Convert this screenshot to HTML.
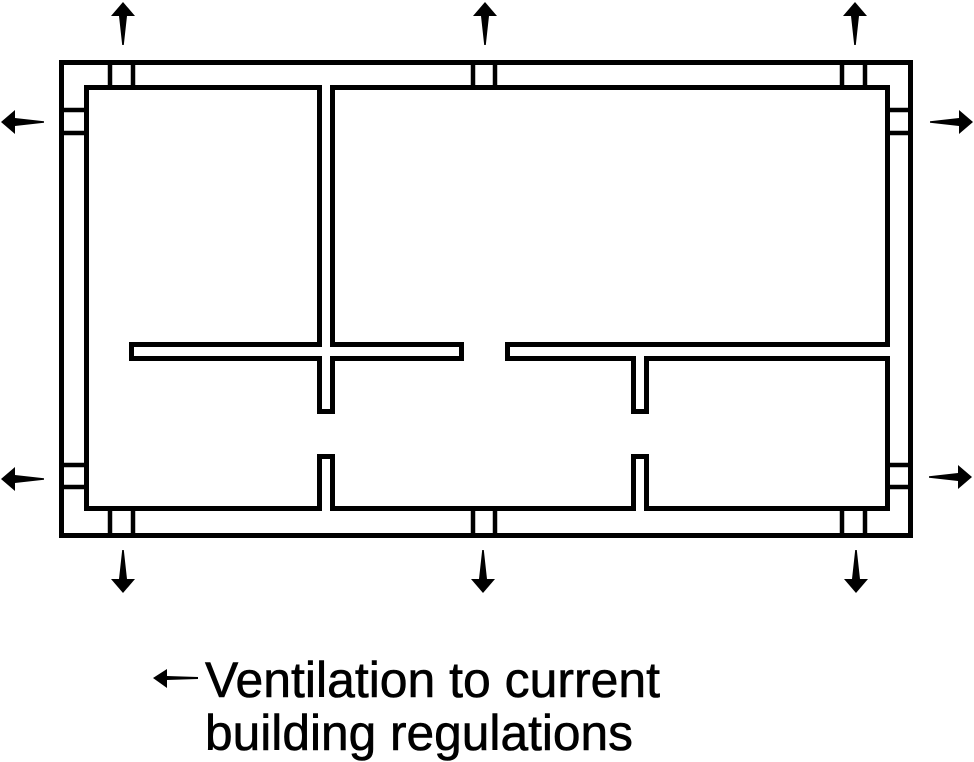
<!DOCTYPE html>
<html><head><meta charset="utf-8"><style>
html,body{margin:0;padding:0;background:#fff;}
svg{display:block;}
</style></head><body>
<svg width="974" height="762" viewBox="0 0 974 762" xmlns="http://www.w3.org/2000/svg">
<defs>
<path id="ar" d="M0,0 L12,14 L4,14 L0.8,43 L-0.8,43 L-4,14 L-12,14 Z" fill="#000"/>
</defs>
<g id="walls">
<g fill="none" stroke="#000" stroke-width="10" stroke-linejoin="miter">
<path fill-rule="evenodd" d="M64,65 H908 V533 H64 Z M84,85 V511 H890 V85 Z"/>
<rect x="322" y="65" width="8" height="344"/>
<rect x="134" y="347" width="325" height="9"/>
<rect x="510" y="347" width="380" height="9"/>
<rect x="636" y="347" width="8" height="62"/>
<rect x="322" y="459" width="8" height="54"/>
<rect x="636" y="459" width="8" height="54"/>
</g>
<g fill="#fff" stroke="none">
<path fill-rule="evenodd" d="M64,65 H908 V533 H64 Z M84,85 V511 H890 V85 Z"/>
<rect x="322" y="65" width="8" height="344"/>
<rect x="134" y="347" width="325" height="9"/>
<rect x="510" y="347" width="380" height="9"/>
<rect x="636" y="347" width="8" height="62"/>
<rect x="322" y="459" width="8" height="54"/>
<rect x="636" y="459" width="8" height="54"/>
</g>
</g>
<g stroke="#000" stroke-width="4.5">
<line x1="110" y1="63" x2="110" y2="87"/><line x1="133" y1="63" x2="133" y2="87"/>
<line x1="473" y1="63" x2="473" y2="87"/><line x1="495" y1="63" x2="495" y2="87"/>
<line x1="842" y1="63" x2="842" y2="87"/><line x1="865" y1="63" x2="865" y2="87"/>
<line x1="110" y1="511" x2="110" y2="535"/><line x1="133" y1="511" x2="133" y2="535"/>
<line x1="473" y1="511" x2="473" y2="535"/><line x1="495" y1="511" x2="495" y2="535"/>
<line x1="842" y1="511" x2="842" y2="535"/><line x1="865" y1="511" x2="865" y2="535"/>
<line x1="62" y1="110" x2="86" y2="110"/><line x1="62" y1="133" x2="86" y2="133"/>
<line x1="62" y1="465" x2="86" y2="465"/><line x1="62" y1="487" x2="86" y2="487"/>
<line x1="888" y1="110" x2="910" y2="110"/><line x1="888" y1="133" x2="910" y2="133"/>
<line x1="888" y1="465" x2="910" y2="465"/><line x1="888" y1="487" x2="910" y2="487"/>
</g>
<use href="#ar" transform="translate(123,2)"/>
<use href="#ar" transform="translate(485,2)"/>
<use href="#ar" transform="translate(855,2)"/>
<use href="#ar" transform="translate(123,593) rotate(180)"/>
<use href="#ar" transform="translate(483,593) rotate(180)"/>
<use href="#ar" transform="translate(856,593) rotate(180)"/>
<use href="#ar" transform="translate(1,122) rotate(-90)"/>
<use href="#ar" transform="translate(1,479) rotate(-90)"/>
<use href="#ar" transform="translate(973,122) rotate(90)"/>
<use href="#ar" transform="translate(972,477) rotate(90)"/>
<path d="M153,678 L167,669 L167,676 L198,677 L198,679 L167,680 L167,688 Z" fill="#000"/>
<text x="205" y="697" font-family="Liberation Sans, Arial, sans-serif" font-size="50" stroke="#000" stroke-width="0.6" textLength="455" lengthAdjust="spacingAndGlyphs">Ventilation to current</text>
<text x="205" y="750" font-family="Liberation Sans, Arial, sans-serif" font-size="50" stroke="#000" stroke-width="0.6" textLength="428" lengthAdjust="spacingAndGlyphs">building regulations</text>
</svg>
</body></html>
